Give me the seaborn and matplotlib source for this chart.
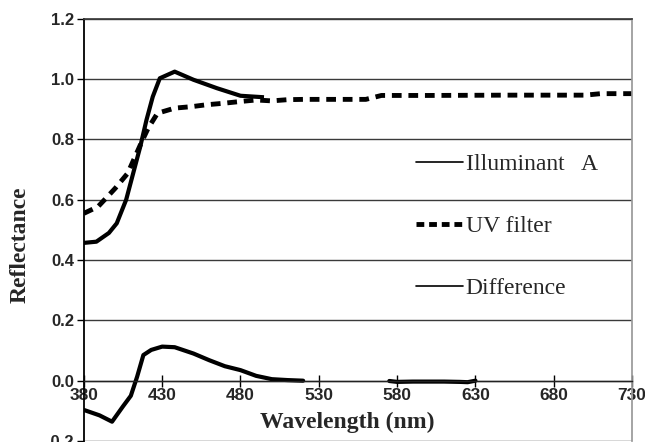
import numpy as np
import pandas as pd
import matplotlib
matplotlib.use("Agg")
import matplotlib.pyplot as plt
from matplotlib.lines import Line2D
import seaborn as sns

# values
illum_nm = [380, 388, 396, 401, 407, 416, 420, 424, 428.5, 438, 450, 465, 480, 495]
illum_val = [0.457, 0.461, 0.49, 0.522, 0.60, 0.776, 0.865, 0.942, 1.003, 1.025, 0.998, 0.97, 0.945, 0.94]

uv_nm = [380, 389, 395, 400, 408, 417, 421, 427, 438, 449, 458, 469, 480, 490, 500, 510, 520,
         540, 560, 570, 600, 650, 700, 710, 730]
uv_val = [0.555, 0.577, 0.61, 0.638, 0.688, 0.793, 0.837, 0.887, 0.904, 0.909, 0.915, 0.92, 0.926,
          0.931, 0.928, 0.932, 0.933, 0.933, 0.933, 0.946, 0.946, 0.947, 0.947, 0.952, 0.952]

diff_nm = [380, 390, 398, 405, 410, 414, 418, 423, 430, 438, 450, 460, 470, 480, 490, 500, 510, 520,
           575, 580, 590, 600, 610, 620, 625, 630]
diff_val = [-0.097, -0.115, -0.136, -0.085, -0.05, 0.013, 0.085, 0.102, 0.113, 0.111, 0.09, 0.068,
            0.048, 0.035, 0.016, 0.005, 0.002, 0.0,
            -0.001, -0.004, -0.003, -0.003, -0.003, -0.004, -0.005, 0.0]
diff_seg = [0] * 18 + [1] * 8

x_ticks = [380, 430, 480, 530, 580, 630, 680, 730]
y_ticks = [-0.2, 0.0, 0.2, 0.4, 0.6, 0.8, 1.0, 1.2]
legend_labels = ["Illuminant   A", "UV filter", "Difference"]

sns.set_theme(style="white")
plt.rcParams["font.family"] = ["Liberation Sans", "DejaVu Sans"]

fig = plt.figure(figsize=(6.45, 4.42), dpi=100)
ax = fig.add_axes([0.130, 0.0023, 0.850, 0.955])

df_diff = pd.DataFrame({"nm": diff_nm, "val": diff_val, "seg": diff_seg})

sns.lineplot(x=illum_nm, y=illum_val, ax=ax, color="black", lw=3, sort=False,
             estimator=None, legend=False, solid_capstyle="butt")
sns.lineplot(x=uv_nm, y=uv_val, ax=ax, color="black", lw=3.5, sort=False,
             estimator=None, legend=False, linestyle=(0, (2, 1.4)), dash_capstyle="butt")
sns.lineplot(data=df_diff, x="nm", y="val", units="seg", estimator=None, sort=False,
             ax=ax, color="black", lw=3, legend=False)

ax.set_xlim(380, 730)
ax.set_ylim(-0.2, 1.2)
ax.set_xticks(x_ticks)
ax.set_yticks(y_ticks)
ax.set_yticklabels([f"{v:.1f}" for v in y_ticks])
ax.yaxis.grid(True, color="#3a3a3a", lw=1.0)
ax.xaxis.grid(False)

ax.spines["bottom"].set_position(("data", 0))
ax.spines["bottom"].set_color("#222222")
ax.spines["bottom"].set_linewidth(1.0)
ax.spines["left"].set_color("black")
ax.spines["left"].set_linewidth(1.3)
ax.spines["top"].set_color("#3a3a3a")
ax.spines["right"].set_color("#999999")

ax.tick_params(axis="x", direction="inout", length=8, width=1, color="black", pad=1,
               bottom=True, labelsize=12.5)
ax.tick_params(axis="y", direction="out", length=5, width=1, color="black", pad=2,
               left=True, labelsize=12)
for lab in ax.get_xticklabels() + ax.get_yticklabels():
    lab.set_fontweight("bold")

ax.set_xlabel("Wavelength (nm)", family="Liberation Serif", fontweight="bold", fontsize=17)
ax.set_ylabel("Reflectance", family="Liberation Serif", fontweight="bold", fontsize=17)
ax.xaxis.set_label_coords(0.48, 0.07)
ax.yaxis.set_label_coords(-0.098, 0.464)

handles = [Line2D([], [], color="black", lw=1.2),
           Line2D([], [], color="black", lw=3.5, linestyle=(0, (1.6, 1.0)), dash_capstyle="butt"),
           Line2D([], [], color="black", lw=1.2)]
ax.legend(handles, legend_labels, loc="upper left", bbox_to_anchor=(0.606, 0.68),
          bbox_transform=ax.transAxes, frameon=False, borderpad=0, borderaxespad=0,
          handlelength=2.0, handletextpad=0.1, labelspacing=1.7,
          prop={"family": "Liberation Serif", "size": 17})

fig.savefig("out.png", dpi=100)
